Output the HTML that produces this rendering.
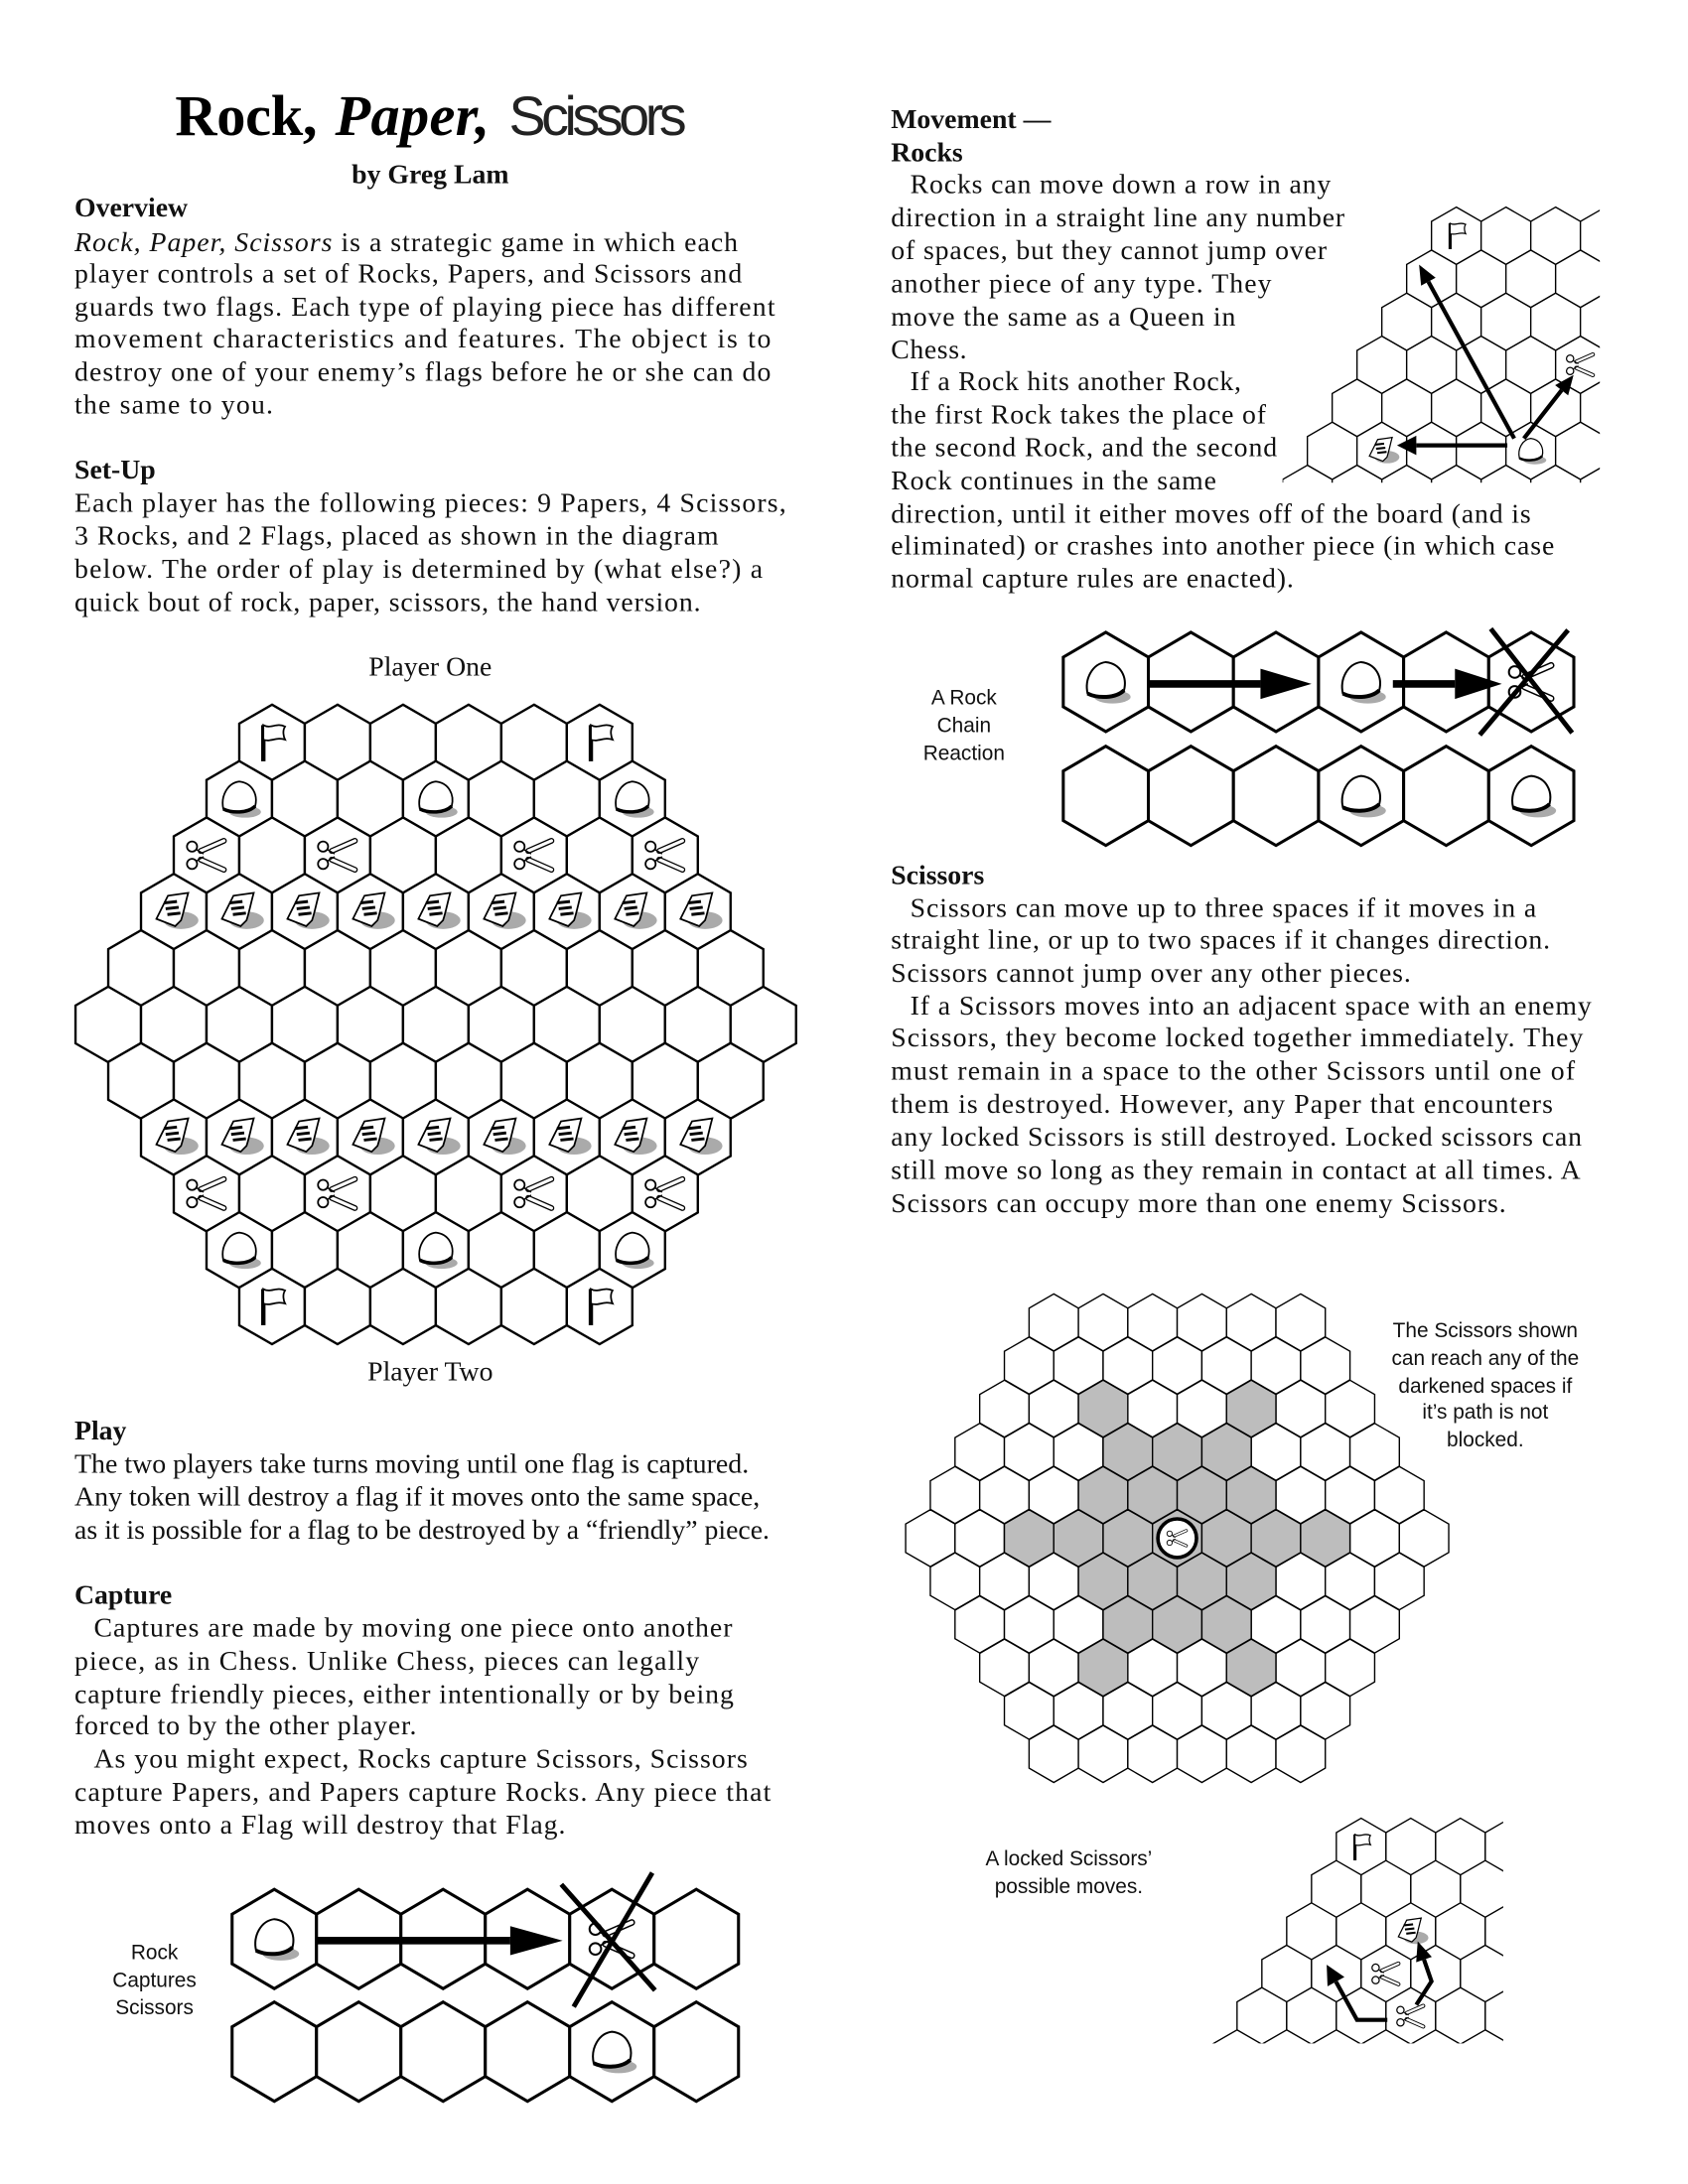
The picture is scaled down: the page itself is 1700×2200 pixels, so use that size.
<!DOCTYPE html>
<html><head><meta charset="utf-8"><style>
html,body{margin:0;padding:0;background:#fff;}
svg{display:block;}
.b{font-family:"Liberation Serif",serif;font-size:20px;fill:#111;}
.h{font-family:"Liberation Serif",serif;font-size:20px;font-weight:bold;fill:#111;}
.s{font-family:"Liberation Sans",sans-serif;font-size:15px;fill:#111;}
</style></head><body>
<svg id="page" width="1700" height="2200" viewBox="0 0 1224 1584" xmlns="http://www.w3.org/2000/svg">
<rect width="1224" height="1584" fill="#fff"/>
<g>
<text x="127" y="98" font-family="Liberation Serif,serif" font-weight="bold" font-size="42" textLength="103" fill="#000">Rock,</text>
<text x="243" y="98" font-family="Liberation Serif,serif" font-weight="bold" font-style="italic" font-size="42" textLength="112" fill="#000">Paper,</text>
<text x="369" y="98" font-family="Liberation Sans,sans-serif" font-size="40" textLength="129" fill="#222">Scissors</text>
</g>
<text class="h" x="312" y="133" text-anchor="middle">by Greg Lam</text>

<g>
<text class="h" x="54" y="157">Overview</text>
<text class="b" x="54" y="182" textLength="481"><tspan font-style="italic">Rock, Paper, Scissors</tspan> is a strategic game in which each</text>
<text class="b" x="54" y="205" textLength="484">player controls a set of Rocks, Papers, and Scissors and</text>
<text class="b" x="54" y="229" textLength="508">guards two flags.  Each type of playing piece has different</text>
<text class="b" x="54" y="252" textLength="505">movement characteristics and features.  The object is to</text>
<text class="b" x="54" y="276" textLength="505">destroy one of your enemy’s flags before he or she can do</text>
<text class="b" x="54" y="300" textLength="144">the same to you.</text>
<text class="h" x="54" y="347">Set-Up</text>
<text class="b" x="54" y="371" textLength="516">Each player has the following pieces:  9 Papers, 4 Scissors,</text>
<text class="b" x="54" y="395" textLength="467">3 Rocks, and 2 Flags, placed as shown in the diagram</text>
<text class="b" x="54" y="419" textLength="499">below.  The order of play is determined by (what else?) a</text>
<text class="b" x="54" y="443" textLength="454">quick bout of rock, paper, scissors, the hand version.</text>
<text class="b" x="312" y="490" text-anchor="middle" font-size="21">Player One</text>
<text class="b" x="312" y="1001" text-anchor="middle" font-size="21">Player Two</text>
<text class="h" x="54" y="1044">Play</text>
<text class="b" x="54" y="1068" textLength="489" lengthAdjust="spacingAndGlyphs">The two players take turns moving until one flag is captured.</text>
<text class="b" x="54" y="1092" textLength="497" lengthAdjust="spacingAndGlyphs">Any token will destroy a flag if it moves onto the same space,</text>
<text class="b" x="54" y="1116" textLength="504" lengthAdjust="spacingAndGlyphs">as it is possible for a flag to be destroyed by a “friendly” piece.</text>
<text class="h" x="54" y="1163">Capture</text>
<text class="b" x="68" y="1187" textLength="463">Captures are made by moving one piece onto another</text>
<text class="b" x="54" y="1211" textLength="453">piece, as in Chess.  Unlike Chess, pieces can legally</text>
<text class="b" x="54" y="1235" textLength="478">capture friendly pieces, either intentionally or by being</text>
<text class="b" x="54" y="1258" textLength="248">forced to by the other player.</text>
<text class="b" x="68" y="1282" textLength="474">As you might expect, Rocks capture Scissors, Scissors</text>
<text class="b" x="54" y="1306" textLength="505">capture Papers, and Papers capture Rocks.  Any piece that</text>
<text class="b" x="54" y="1330" textLength="356">moves onto a Flag will destroy that Flag.</text>
</g>

<g transform="translate(5,0)">
<text class="h" x="641" y="93">Movement —</text>
<text class="h" x="641" y="117">Rocks</text>
<text class="b" x="655" y="140" textLength="305">Rocks can move down a row in any</text>
<text class="b" x="641" y="164" textLength="329">direction in a straight line any number</text>
<text class="b" x="641" y="188" textLength="316">of spaces, but they cannot jump over</text>
<text class="b" x="641" y="212" textLength="276">another piece of any type.  They</text>
<text class="b" x="641" y="236" textLength="250">move the same as a Queen in</text>
<text class="b" x="641" y="260" textLength="55">Chess.</text>
<text class="b" x="655" y="283" textLength="240">If a Rock hits another Rock,</text>
<text class="b" x="641" y="307" textLength="272">the first Rock takes the place of</text>
<text class="b" x="641" y="331" textLength="280">the second Rock, and the second</text>
<text class="b" x="641" y="355" textLength="236">Rock continues in the same</text>
<text class="b" x="641" y="379" textLength="464">direction, until it either moves off of the board (and is</text>
<text class="b" x="641" y="402" textLength="481">eliminated) or crashes into another piece (in which case</text>
<text class="b" x="641" y="426" textLength="292">normal capture rules are enacted).</text>
<text class="h" x="641" y="641">Scissors</text>
<text class="b" x="655" y="665" textLength="454">Scissors can move up to three spaces if it moves in a</text>
<text class="b" x="641" y="688" textLength="478">straight line, or up to two spaces if it changes direction.</text>
<text class="b" x="641" y="712" textLength="377">Scissors cannot jump over any other pieces.</text>
<text class="b" x="655" y="736" textLength="494">If a Scissors moves into an adjacent space with an enemy</text>
<text class="b" x="641" y="759" textLength="502">Scissors, they become locked together immediately.  They</text>
<text class="b" x="641" y="783" textLength="496">must remain in a space to the other Scissors until one of</text>
<text class="b" x="641" y="807" textLength="480">them is destroyed.  However, any Paper that encounters</text>
<text class="b" x="641" y="831" textLength="501">any locked Scissors is still destroyed. Locked scissors can</text>
<text class="b" x="641" y="855" textLength="500">still move so long as they remain in contact at all times. A</text>
<text class="b" x="641" y="879" textLength="446">Scissors can occupy more than one enemy Scissors.</text>
</g>

<g>
<text class="s" x="699" y="511" text-anchor="middle">A Rock</text>
<text class="s" x="699" y="531" text-anchor="middle">Chain</text>
<text class="s" x="699" y="551" text-anchor="middle">Reaction</text>
<text class="s" x="112" y="1421" text-anchor="middle">Rock</text>
<text class="s" x="112" y="1441" text-anchor="middle">Captures</text>
<text class="s" x="112" y="1461" text-anchor="middle">Scissors</text>
<text class="s" x="1077" y="970" text-anchor="middle">The Scissors shown</text>
<text class="s" x="1077" y="990" text-anchor="middle">can reach any of the</text>
<text class="s" x="1077" y="1010" text-anchor="middle">darkened spaces if</text>
<text class="s" x="1077" y="1029" text-anchor="middle">it’s path is not</text>
<text class="s" x="1077" y="1049" text-anchor="middle">blocked.</text>
<text class="s" x="775" y="1353" text-anchor="middle">A locked Scissors’</text>
<text class="s" x="775" y="1373" text-anchor="middle">possible moves.</text>
</g>
<defs>
<clipPath id="clipRock"><rect x="930" y="140" width="230" height="210"/></clipPath>
<clipPath id="clipLock"><rect x="860" y="1300" width="230" height="182"/></clipPath>
</defs>
<g id="layer"></g>
</svg>
<script>
// ---- data ----
const mainPieces = [
 [-5,0,'flag'],[-5,5,'flag'],
 [-4,0,'rock'],[-4,3,'rock'],[-4,6,'rock'],
 [-3,0,'scissors'],[-3,2,'scissors'],[-3,5,'scissors'],[-3,7,'scissors'],
 [-2,0,'paper'],[-2,1,'paper'],[-2,2,'paper'],[-2,3,'paper'],[-2,4,'paper'],[-2,5,'paper'],[-2,6,'paper'],[-2,7,'paper'],[-2,8,'paper'],
 [2,0,'paper'],[2,1,'paper'],[2,2,'paper'],[2,3,'paper'],[2,4,'paper'],[2,5,'paper'],[2,6,'paper'],[2,7,'paper'],[2,8,'paper'],
 [3,0,'scissors'],[3,2,'scissors'],[3,5,'scissors'],[3,7,'scissors'],
 [4,0,'rock'],[4,3,'rock'],[4,6,'rock'],
 [5,0,'flag'],[5,5,'flag']
];
const reachRows = [-3,-3,-2,-2,-2,-1,-1,-1,-1,0,0,0,0,0,0,0,1,1,1,1,2,2,2,3,3];
const reachOffs = [-1.5,1.5,-1,0,1,-1.5,-0.5,0.5,1.5,-3,-2,-1,0,1,2,3,-1.5,-0.5,0.5,1.5,-1,0,1,-1.5,1.5];
const rockTriPieces = [[0,0,'flag'],[3,4,'scissors'],[5,1,'paper'],[5,4,'rock']];
const lockTriPieces = [[0,0,'flag'],[2,2,'paper'],[3,2,'scissors'],[4,3,'scissors']];
const chainTop = ['rock','','','rock','','scissors'];
const chainBottom = ['','','','rock','','rock'];
const captureTop = ['rock','','','','scissors',''];
const captureBottom = ['','','','','rock',''];

// ---- drawing ----
const NS='http://www.w3.org/2000/svg';
const layer=document.getElementById('layer');
function el(tag,attrs,parent){const e=document.createElementNS(NS,tag);for(const k in attrs)e.setAttribute(k,attrs[k]);(parent||layer).appendChild(e);return e;}
function hexPts(cx,cy,w,hv,hp){
 const x=w/2;return [[cx,cy-hp],[cx+x,cy-hv],[cx+x,cy+hv],[cx,cy+hp],[cx-x,cy+hv],[cx-x,cy-hv]].map(p=>p[0].toFixed(2)+','+p[1].toFixed(2)).join(' ');}
function hex(g,cx,cy,w,hv,hp,fill,sw,name){
 const h=el('polygon',{points:hexPts(cx,cy,w,hv,hp),fill:fill,stroke:'#000','stroke-width':sw,'stroke-linejoin':'miter'},g);
 
 
 return h;}
function piece(g,type,cx,cy,sc){
 const p=el('g',{transform:'translate('+cx+','+cy+') scale('+sc+')'},g);
 
 
 if(type==='flag'){
  el('line',{x1:-6,y1:-12,x2:-6,y2:13,stroke:'#000','stroke-width':3},p);
  el('path',{d:'M-6,-12 C-1,-9 3,-14 9,-11 C7,-8 8,-4 9,-2 C3,-4 -1,0 -6,-2 Z',fill:'#fff',stroke:'#000','stroke-width':1.2},p);
 }else if(type==='rock'){
  el('ellipse',{cx:4,cy:9,rx:11,ry:4,fill:'#aaa'},p);
  el('path',{d:'M-11,7 C-13,-2 -8,-11 0,-12 C9,-11 13,-3 11,5 C8,10 -5,10 -11,7 Z',fill:'#fff',stroke:'#000','stroke-width':1.2},p);
  el('path',{d:'M-11,7 C-5,10 6,10 11,5',fill:'none',stroke:'#000','stroke-width':2.4},p);
 }else if(type==='scissors'){
  el('line',{x1:-4,y1:-3,x2:12,y2:-10,stroke:'#000','stroke-width':4,'stroke-linecap':'round'},p);
  el('line',{x1:-4,y1:3,x2:12,y2:10,stroke:'#000','stroke-width':4,'stroke-linecap':'round'},p);
  el('line',{x1:-4,y1:-3,x2:12,y2:-10,stroke:'#fff','stroke-width':2.2,'stroke-linecap':'round'},p);
  el('line',{x1:-4,y1:3,x2:12,y2:10,stroke:'#fff','stroke-width':2.2,'stroke-linecap':'round'},p);
  el('line',{x1:-7,y1:-4,x2:-2,y2:-1,stroke:'#000','stroke-width':1},p);
  el('line',{x1:-7,y1:4,x2:-2,y2:1,stroke:'#000','stroke-width':1},p);
  el('circle',{cx:-10,cy:-6,r:3.5,fill:'#fff',stroke:'#000','stroke-width':1.2},p);
  el('circle',{cx:-10,cy:6,r:3.5,fill:'#fff',stroke:'#000','stroke-width':1.2},p);
 }else if(type==='paper'){
  el('ellipse',{cx:5,cy:6,rx:12,ry:6,fill:'#aaa'},p);
  el('path',{d:'M-12,5 L-4,-11 L10,-13 C8,-6 7,0 5,6 L1,10 Z',fill:'#fff',stroke:'#000','stroke-width':1.2},p);
  [-6,-2,2].forEach(y=>el('line',{x1:-5+y*0.3,y1:y,x2:4+y*0.3,y2:y-1,stroke:'#000','stroke-width':2},p));
 }
}
function arrow(g,pts,sw,headLen,headHalf,name){
 const a=el('g',{},g);
 
 
 const n=pts.length,tip=pts[n-1],prev=pts[n-2];
 const dx=tip[0]-prev[0],dy=tip[1]-prev[1],L=Math.hypot(dx,dy),ux=dx/L,uy=dy/L;
 const bx=tip[0]-ux*headLen,by=tip[1]-uy*headLen;
 const line=pts.slice(0,n-1).concat([[bx,by]]);
 el('polyline',{points:line.map(p=>p.join(',')).join(' '),fill:'none',stroke:'#000','stroke-width':sw,'stroke-linejoin':'miter'},a);
 el('polygon',{points:[tip,[bx-uy*headHalf,by+ux*headHalf],[bx+uy*headHalf,by-ux*headHalf]].map(p=>p.join(',')).join(' '),fill:'#000'},a);
}

// main board
(function(){
 const g=el('g',{});
 
 
 const W=47.5,S=W/Math.sqrt(3),CX=316,CY=743,DY=40.9;
 const pos=(r,i)=>{const n=11-Math.abs(r);return [CX+(i-(n-1)/2)*W,CY+r*DY];};
 for(let r=-5;r<=5;r++){const n=11-Math.abs(r);for(let i=0;i<n;i++){const p=pos(r,i);hex(g,p[0],p[1],W,S/2,S,'#fff',1.7,'board-cell');}}
 mainPieces.forEach(d=>{const p=pos(d[0],d[1]);piece(g,d[2],p[0],p[1],1.05);});
})();

// scissors reach board
(function(){
 const g=el('g',{});
 
 
 const W=35.8,S=W/Math.sqrt(3),CX=853.6,CY=1115.6,DY=31.3;
 for(let r=-5;r<=5;r++){const n=11-Math.abs(r);for(let i=0;i<n;i++){hex(g,CX+(i-(n-1)/2)*W,CY+r*DY,W,S/2,S,'#fff',1,'reach-cell');}}
 reachRows.forEach((r,k)=>{hex(g,CX+reachOffs[k]*W,CY+r*DY,W,S/2,S,'#bdbdbd',1,'reach-darkened-cell');});
 const c=el('circle',{cx:CX,cy:CY,r:14,fill:'#fff',stroke:'#000','stroke-width':2.6},g);
 
 
 piece(g,'scissors',CX,CY,0.55);
})();

// triangles
function triangle(name,clip,x0,y0,W,DY,rows,cols,pieces){
 const g=el('g',{'clip-path':'url(#'+clip+')'});
 
 
 const S=W/Math.sqrt(3);
 const pos=(r,i)=>[x0-r*W/2+i*W,y0+r*DY];
 for(let r=0;r<rows;r++)for(let i=0;i<cols+r;i++){const p=pos(r,i);hex(g,p[0],p[1],W,S/2,S,'#fff',1,'triangle-cell');}
 pieces.forEach(d=>{const p=pos(d[0],d[1]);piece(g,d[2],p[0],p[1],0.75);});
 return g;
}
const rt=triangle('rock-move-diagram','clipRock',1056,171,36,31.2,7,4,rockTriPieces);
arrow(rt,[[1098,318],[1029,192]],3,14,6,'rock-move-arrow-up');
arrow(rt,[[1105,318],[1141,272]],3,14,6,'rock-move-arrow-right');
arrow(rt,[[1093,323],[1013,323]],3,14,7,'rock-move-arrow-left');
const lt=triangle('locked-scissors-diagram','clipLock',987,1339.5,36,30.7,6,4,lockTriPieces);
arrow(lt,[[1006,1465],[984,1465],[962,1425]],3,14,7,'locked-move-arrow-left');
arrow(lt,[[1027,1454],[1038,1437],[1028,1408]],3,14,6,'locked-move-arrow-up');

// strips
function strip(name,x0,cy,W,hv,hp,cells){
 const g=el('g',{});
 
 
 cells.forEach((t,i)=>{const cx=x0+W/2+i*W;hex(g,cx,cy,W,hv,hp,'#fff',2.2,'strip-cell');if(t)piece(g,t,cx,cy,1.2);});
 return g;
}
const ct=strip('chain-top-row',771,494.6,61.7,18,36,chainTop);
strip('chain-bottom-row',771,577.2,61.7,18,36,chainBottom);
arrow(ct,[[832,496],[951,496]],5.5,37,11,'chain-arrow-1');
arrow(ct,[[1010,496],[1089,496]],5.5,34,11,'chain-arrow-2');
el('line',{x1:1081,y1:456,x2:1140,y2:531.5,stroke:'#000','stroke-width':3.5},ct);
el('line',{x1:1137,y1:457,x2:1073,y2:533,stroke:'#000','stroke-width':3.5},ct);
const cp=strip('capture-top-row',168.3,1406.3,61.2,18,36,captureTop);
strip('capture-bottom-row',168.3,1488,61.2,18,36,captureBottom);
arrow(cp,[[229,1407.5],[408,1407.5]],5.5,38,10.5,'capture-arrow');
el('line',{x1:407,y1:1366.7,x2:475,y2:1443.5,stroke:'#000','stroke-width':3.5},cp);
el('line',{x1:473,y1:1358.3,x2:416,y2:1455.5,stroke:'#000','stroke-width':3.5},cp);
</script>
</body></html>
